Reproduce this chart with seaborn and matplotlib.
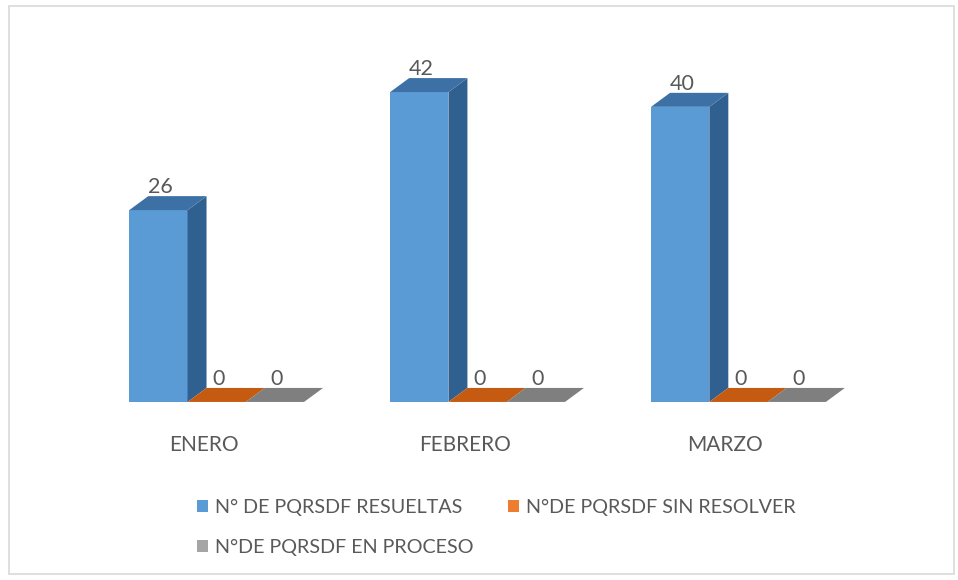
import pandas as pd
import matplotlib.pyplot as plt
import seaborn as sns
from matplotlib.patches import Polygon, Patch, Rectangle
from matplotlib.transforms import ScaledTranslation

sns.set_theme(style="white")
plt.rcParams['font.family'] = ['Lato', 'DejaVu Sans']

# data
meses = ["ENERO", "FEBRERO", "MARZO"]
series = ["N° DE PQRSDF RESUELTAS", "N°DE PQRSDF SIN RESOLVER", "N°DE PQRSDF EN PROCESO"]
resueltas = [26, 42, 40]
sin_resolver = [0, 0, 0]
en_proceso = [0, 0, 0]

front = ["#5b9bd5", "#ed7d31", "#a5a5a5"]
side = ["#30608f", "#a34a0e", "#6b6b6b"]
top = ["#3d71a6", "#c55a11", "#7f7f7f"]
text_gray = "#595959"

df = pd.DataFrame({
    "mes": meses * 3,
    "serie": [series[0]] * 3 + [series[1]] * 3 + [series[2]] * 3,
    "valor": resueltas + sin_resolver + en_proceso,
})

fig = plt.figure(figsize=(9.58, 5.8), dpi=100)
ax = fig.add_axes([0.090, 0.307, 0.817, 0.636])

sns.barplot(data=df, x="mes", y="valor", hue="serie", hue_order=series,
            palette=front, saturation=1, width=0.67, gap=0, linewidth=0,
            legend=False, ax=ax)
ax.set_xlim(-0.5, 2.5)
ax.set_ylim(0, 50)

# fake 3D depth: offsets in data units
dx = 19 / 261
dy = 14 / 7.38

for i, bar in enumerate(ax.patches[:9]):
    k = i // 3
    x0 = bar.get_x()
    x1 = x0 + bar.get_width()
    h = bar.get_height()
    if h > 0:
        ax.add_patch(Polygon([(x1, 0), (x1 + dx, dy), (x1 + dx, h + dy), (x1, h)],
                             closed=True, facecolor=side[k], edgecolor="none", clip_on=False))
    ax.add_patch(Polygon([(x0, h), (x0 + dx, h + dy), (x1 + dx, h + dy), (x1, h)],
                         closed=True, facecolor=top[k], edgecolor="none", clip_on=False))
    ax.text(x0 + bar.get_width() / 2 + dx * 0.1, h + dy - 0.1, f"{h:.0f}",
            ha="center", va="bottom", fontsize=15.5, color=text_gray)

sns.despine(ax=ax, left=True, bottom=True)
ax.set_yticks([])
ax.set_xlabel("")
ax.set_ylabel("")
ax.tick_params(axis="x", length=0, pad=24, labelsize=15, labelcolor=text_gray)
shift = ScaledTranslation(-13 / 100, 0, fig.dpi_scale_trans)
for lbl in ax.get_xticklabels():
    lbl.set_transform(lbl.get_transform() + shift)

# legend: two items on first row, one on second
handles = [Patch(facecolor=c, edgecolor="none") for c in front]
order = [0, 2, 1]
fig.legend([handles[j] for j in order], [series[j] for j in order],
           ncol=2, loc="center", bbox_to_anchor=(0.518, 0.091), frameon=False,
           fontsize=14.2, labelcolor=text_gray, handlelength=0.58, handleheight=0.58,
           handletextpad=0.35, columnspacing=1.75, labelspacing=1.15)

fig.add_artist(Rectangle((9 / 958, 6 / 580), 945 / 958, 568 / 580, transform=fig.transFigure,
                         fill=False, edgecolor="#d9d9d9", linewidth=1.2))

fig.savefig("out.png", dpi=100)
